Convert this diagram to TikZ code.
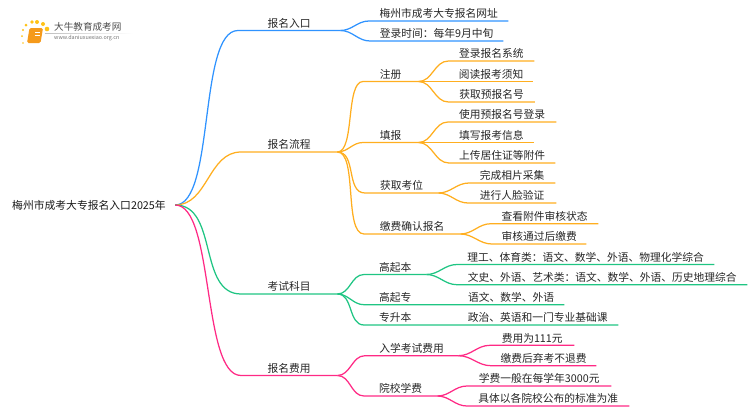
\documentclass[tikz,border=0pt]{standalone}
\usepackage{fontspec}
\setmainfont{Noto Sans CJK SC}
\definecolor{bluebr}{HTML}{2F93FF}
\definecolor{orangebr}{HTML}{FFAE1F}
\definecolor{greenbr}{HTML}{1FC583}
\definecolor{pinkbr}{HTML}{FF2A85}
\definecolor{logoor}{HTML}{F59A1B}
\tikzset{
topic/.style={anchor=south west, inner xsep=0pt, inner ysep=0pt, text height=9pt, text depth=3pt, text=black!85, font=\fontsize{10.75pt}{12pt}\selectfont},
rootnode/.style={inner sep=0pt, text=black!90, font=\fontsize{10.8pt}{12pt}\selectfont},
link/.style={draw, line width=1.25pt},
curve/.style={out=0, in=180},
}
\begin{document}
\begin{tikzpicture}[x=1pt, y=-1pt]
\useasboundingbox (0,0) rectangle (750,410);
% logo
\foreach \dotx/\doty/\dotr in {23/43/.8, 22/36/1, 23/30/1.2, 26/25/1.5, 32/22/1.8, 37/22/2, 43/24/2, 47/29/2.3}
  \fill[orangebr!75!yellow] (\dotx,\doty) circle (\dotr);
\fill[logoor, rounded corners=1.5pt] (29.5,28) -- (43,28) -- (40.5,43) -- (27,43) -- cycle;
\draw[white, line width=.6pt] (35,32) -- (40,32) (34.5,35) -- (39.5,35);
\shade[left color=black!25, right color=white] (45,33) rectangle (133,33.5);
\node [anchor=west, inner sep=0pt, text=black!70, font=\fontsize{9.6pt}{10pt}\selectfont] (logotitle) at (54,27) {大牛教育成考网};
\node [anchor=west, inner sep=0pt, text=black!55, font=\fontsize{5.4pt}{6pt}\selectfont] (logourl) at (54,38.5) {www.daniuxuexiao.org.cn};
% root
\node [rootnode, minimum width=172pt] (root) at (89,205) {梅州市成考大专报名入口2025年};
% first level
\node [topic, minimum width=102pt] (entry) at (238,30.5) {报名入口};
\node [topic, minimum width=96pt] (flow) at (241,152) {报名流程};
\node [topic, minimum width=96pt] (exam) at (241,294) {考试科目};
\node [topic, minimum width=96pt] (fee) at (241,375.5) {报名费用};
% entry
\node [topic, minimum width=139pt] (site) at (369,21) {梅州市成考大专报名网址};
\node [topic, minimum width=133pt] (login) at (370,41) {登录时间：每年9月中旬};
% flow
\node [topic, minimum width=55pt] (reg) at (363,81.5) {注册};
\node [topic, minimum width=55pt] (fill) at (363,142.5) {填报};
\node [topic, minimum width=73pt] (seat) at (365,193) {获取考位};
\node [topic, minimum width=96pt] (pay) at (364,234) {缴费确认报名};
\node [topic, minimum width=85.5pt] (reg1) at (448.5,61) {登录报名系统};
\node [topic, minimum width=84pt] (reg2) at (449,81.5) {阅读报考须知};
\node [topic, minimum width=86pt] (reg3) at (448.5,102) {获取预报名号};
\node [topic, minimum width=108pt] (fill1) at (448,122) {使用预报名号登录};
\node [topic, minimum width=85.5pt] (fill2) at (448.5,142.5) {填写报考信息};
\node [topic, minimum width=106pt] (fill3) at (449,163) {上传居住证等附件};
\node [topic, minimum width=86pt] (seat1) at (469,183) {完成相片采集};
\node [topic, minimum width=88pt] (seat2) at (468,203) {进行人脸验证};
\node [topic, minimum width=107pt] (pay1) at (491,223.7) {查看附件审核状态};
\node [topic, minimum width=94pt] (pay2) at (492,244) {审核通过后缴费};
% exam
\node [topic, minimum width=62pt] (gqb) at (364,274.5) {高起本};
\node [topic, minimum width=62pt] (gqz) at (364,304.7) {高起专};
\node [topic, minimum width=62pt] (zsb) at (364,325) {专升本};
\node [topic, minimum width=257pt] (gqb1) at (457,264.5) {理工、体育类：语文、数学、外语、物理化学综合};
\node [topic, minimum width=290pt] (gqb2) at (457,284.7) {文史、外语、艺术类：语文、数学、外语、历史地理综合};
\node [topic, minimum width=106pt] (gqz1) at (458,304.7) {语文、数学、外语};
\node [topic, minimum width=161pt] (zsb1) at (457,325) {政治、英语和一门专业基础课};
% fee
\node [topic, minimum width=93pt] (test) at (365,355.7) {入学考试费用};
\node [topic, minimum width=73pt] (school) at (364,396) {院校学费};
\node [topic, minimum width=84pt] (test1) at (490,345.3) {费用为111元};
\node [topic, minimum width=105pt] (test2) at (491,365.7) {缴费后弃考不退费};
\node [topic, minimum width=144pt] (school1) at (467,386) {学费一般在每学年3000元};
\node [topic, minimum width=162pt] (school2) at (467,406) {具体以各院校公布的标准为准};
% connectors
\path[link, bluebr] (root.east) to[curve, looseness=.55] (entry.south west) -- (entry.south east);
\path[link, orangebr] (root.east) to[curve] (flow.south west) -- (flow.south east);
\path[link, greenbr] (root.east) to[curve] (exam.south west) -- (exam.south east);
\path[link, pinkbr] (root.east) to[curve, looseness=.55] (fee.south west) -- (fee.south east);
\path[link, bluebr] (entry.south east) to[curve] (site.south west) -- (site.south east);
\path[link, bluebr] (entry.south east) to[curve] (login.south west) -- (login.south east);
\path[link, orangebr] (flow.south east) to[curve, looseness=.6] (reg.south west) -- (reg.south east);
\path[link, orangebr] (flow.south east) to[curve] (fill.south west) -- (fill.south east);
\path[link, orangebr] (flow.south east) to[curve] (seat.south west) -- (seat.south east);
\path[link, orangebr] (flow.south east) to[curve, looseness=.6] (pay.south west) -- (pay.south east);
\path[link, orangebr] (reg.south east) to[curve] (reg1.south west) -- (reg1.south east);
\path[link, orangebr] (reg.south east) to[curve] (reg2.south west) -- (reg2.south east);
\path[link, orangebr] (reg.south east) to[curve] (reg3.south west) -- (reg3.south east);
\path[link, orangebr] (fill.south east) to[curve] (fill1.south west) -- (fill1.south east);
\path[link, orangebr] (fill.south east) to[curve] (fill2.south west) -- (fill2.south east);
\path[link, orangebr] (fill.south east) to[curve] (fill3.south west) -- (fill3.south east);
\path[link, orangebr] (seat.south east) to[curve] (seat1.south west) -- (seat1.south east);
\path[link, orangebr] (seat.south east) to[curve] (seat2.south west) -- (seat2.south east);
\path[link, orangebr] (pay.south east) to[curve] (pay1.south west) -- (pay1.south east);
\path[link, orangebr] (pay.south east) to[curve] (pay2.south west) -- (pay2.south east);
\path[link, greenbr] (exam.south east) to[curve] (gqb.south west) -- (gqb.south east);
\path[link, greenbr] (exam.south east) to[curve] (gqz.south west) -- (gqz.south east) -- (gqz1.south west) -- (gqz1.south east);
\path[link, greenbr] (exam.south east) to[curve] (zsb.south west) -- (zsb.south east) -- (zsb1.south west) -- (zsb1.south east);
\path[link, greenbr] (gqb.south east) to[curve] (gqb1.south west) -- (gqb1.south east);
\path[link, greenbr] (gqb.south east) to[curve] (gqb2.south west) -- (gqb2.south east);
\path[link, pinkbr] (fee.south east) to[curve] (test.south west) -- (test.south east);
\path[link, pinkbr] (fee.south east) to[curve] (school.south west) -- (school.south east);
\path[link, pinkbr] (test.south east) to[curve] (test1.south west) -- (test1.south east);
\path[link, pinkbr] (test.south east) to[curve] (test2.south west) -- (test2.south east);
\path[link, pinkbr] (school.south east) to[curve] (school1.south west) -- (school1.south east);
\path[link, pinkbr] (school.south east) to[curve] (school2.south west) -- (school2.south east);
\end{tikzpicture}
\end{document}
